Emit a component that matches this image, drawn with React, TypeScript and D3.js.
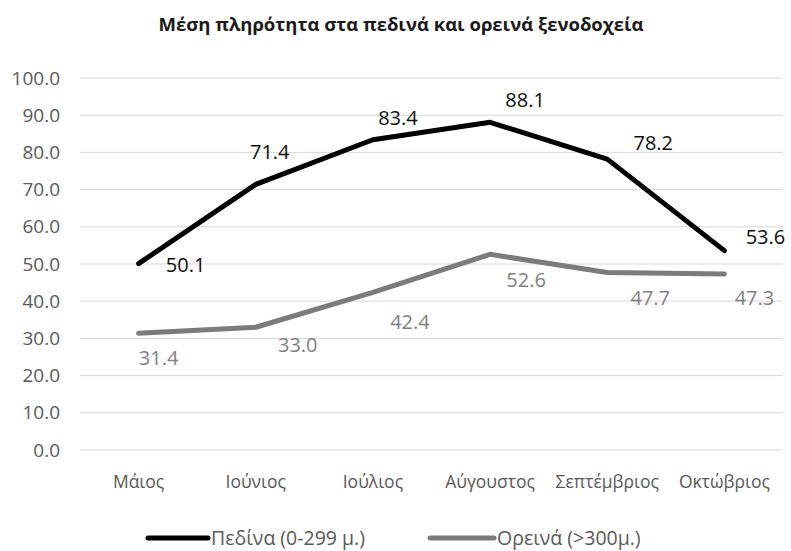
import React from 'react';
import * as d3 from 'd3';

// chart data
const months = ['Μάιος', 'Ιούνιος', 'Ιούλιος', 'Αύγουστος', 'Σεπτέμβριος', 'Οκτώβριος'];
const lowland = [50.1, 71.4, 83.4, 88.1, 78.2, 53.6];
const mountain = [31.4, 33.0, 42.4, 52.6, 47.7, 47.3];
const yTicks = [0, 10, 20, 30, 40, 50, 60, 70, 80, 90, 100];
const seriesNames = ['Πεδίνα (0-299 μ.)', 'Ορεινά (>300μ.)'];
const title = 'Μέση πληρότητα στα πεδινά και ορεινά ξενοδοχεία';

const width = 791;
const height = 551;
const margin = { top: 78, right: 8, bottom: 101, left: 80 };
const font = '"Open Sans", "DejaVu Sans", sans-serif';

// label nudges, the way they were placed by hand in the original
const lowlandLabelShift: [number, number][] = [[47, 1], [14, -32], [25, -22], [35, -22], [46, -16], [41, -14]];
const mountainLabelShift: [number, number][] = [[20, 25], [42, 18], [37, 30], [36, 26], [43, 25], [30, 24]];

const App = () => {
  const x = d3.scaleBand<string>()
    .domain(months)
    .range([margin.left, width - margin.right]);

  const y = d3.scaleLinear()
    .domain([0, 100])
    .range([height - margin.bottom, margin.top]);

  const cx = (i: number) => (x(months[i]) as number) + x.bandwidth() / 2;

  const line = d3.line<number>()
    .x((_, i) => cx(i))
    .y(d => y(d));

  const series = [
    { values: lowland, color: '#000000', labelColor: '#0d0d0d', shift: lowlandLabelShift },
    { values: mountain, color: '#7b7b7b', labelColor: '#7f7f7f', shift: mountainLabelShift },
  ];

  return (
    <svg width={width} height={height} style={{ position: 'absolute', left: 0, top: 0, background: '#fff' }}>
      <text x={401} y={31} textAnchor="middle" fontFamily={font} fontWeight="bold" fontSize={18.5} fill="#1a1a1a">
        {title}
      </text>

      {/* grid + y axis */}
      {yTicks.map(t => (
        <g key={t}>
          <line x1={margin.left} x2={width - margin.right} y1={y(t)} y2={y(t)} stroke="#d9d9d9" strokeWidth={1} />
          <text x={60} y={y(t)} dy="0.35em" textAnchor="end" fontFamily={font} fontSize={19} fill="#595959">
            {t.toFixed(1)}
          </text>
        </g>
      ))}

      {/* x axis labels */}
      {months.map((m, i) => (
        <text key={m} x={cx(i)} y={488} textAnchor="middle" fontFamily={font} fontSize={17.5} fill="#595959">
          {m}
        </text>
      ))}

      {/* lines */}
      {series.map((s, k) => (
        <path key={k} d={line(s.values) || ''} fill="none" stroke={s.color} strokeWidth={5}
          strokeLinejoin="round" strokeLinecap="round" />
      ))}

      {/* data labels */}
      {series.map((s, k) => s.values.map((v, i) => (
        <text key={k + '-' + i} x={cx(i) + s.shift[i][0]} y={y(v) + s.shift[i][1]} dy="0.35em"
          textAnchor="middle" fontFamily={font} fontSize={20} fill={s.labelColor}>
          {v.toFixed(1)}
        </text>
      )))}

      {/* legend */}
      <line x1={148} x2={208} y1={538} y2={538} stroke="#000" strokeWidth={5} strokeLinecap="round" />
      <text x={211} y={538} dy="0.35em" fontFamily={font} fontSize={19.5} fill="#595959">{seriesNames[0]}</text>
      <line x1={430} x2={494} y1={538} y2={538} stroke="#7b7b7b" strokeWidth={5} strokeLinecap="round" />
      <text x={497} y={538} dy="0.35em" fontFamily={font} fontSize={19.5} fill="#595959">{seriesNames[1]}</text>
    </svg>
  );
};

export default App;
